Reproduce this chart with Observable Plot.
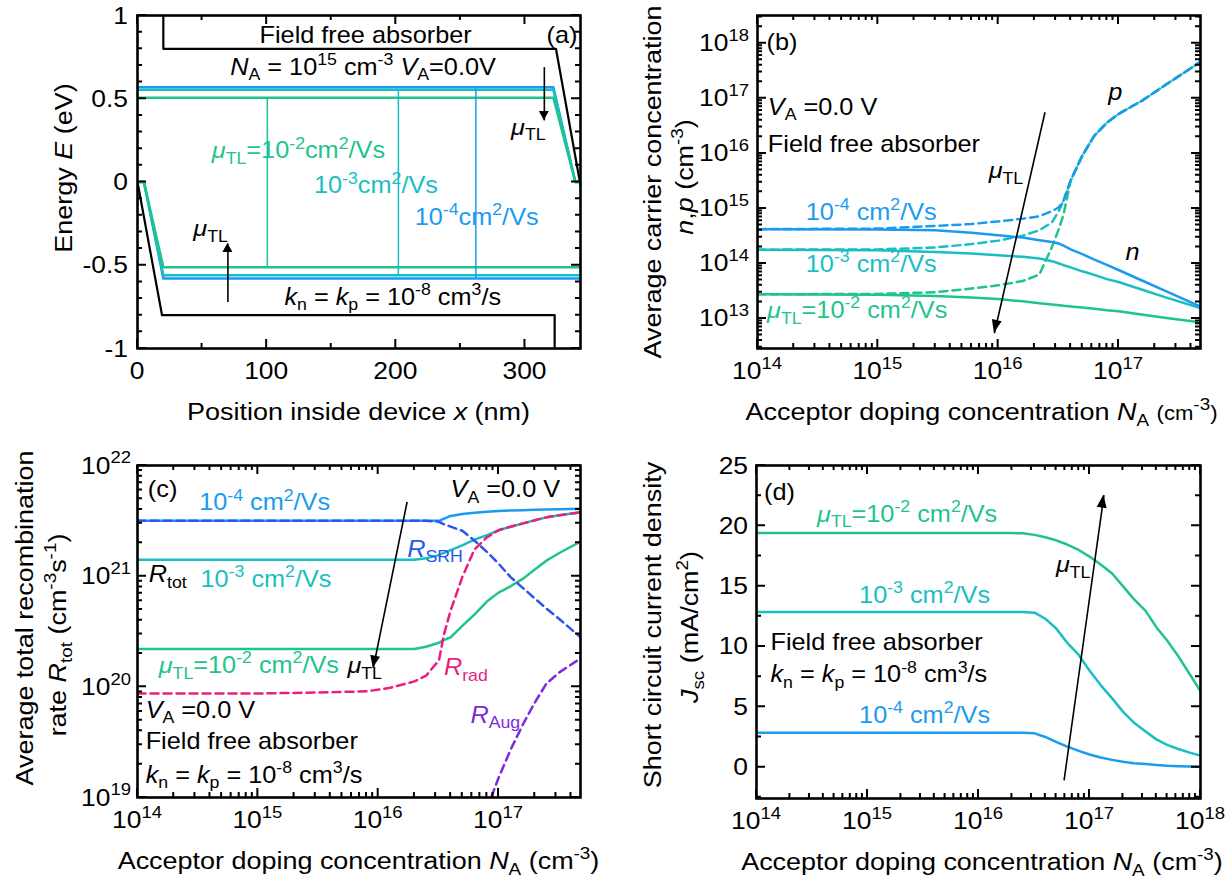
<!DOCTYPE html>
<html><head><meta charset="utf-8">
<script src="https://cdn.jsdelivr.net/npm/d3@7"></script>
<script src="https://cdn.jsdelivr.net/npm/@observablehq/plot@0.6"></script>
<style>
html,body{margin:0;padding:0;background:#fff;}
#fig{position:relative;width:1232px;height:886px;overflow:hidden;background:#fff;}
#fig svg{position:absolute;overflow:visible;max-width:none;}
</style></head><body><div id="fig"></div>
<script>
// ================= DATA =================
// ---- Panel (a): band diagram, position x (nm) vs energy E (eV)
const aBlackTopX = [20, 20, 324, 343];
const aBlackTopE = [1.2, 0.80, 0.80, -0.02];
const aBlackBotX = [0, 19, 323, 323];
const aBlackBotE = [0, -0.80, -0.80, -1.2];
const aUpperX = [0, 322, 339, 343];
const aUpperE_1e2 = [0.506, 0.506, 0, 0];
const aUpperE_1e3 = [0.554, 0.554, 0, 0];
const aUpperE_1e4 = [0.569, 0.569, 0, 0];
const aLowerX = [0, 5, 20, 343];
const aLowerE_1e2 = [0, 0, -0.512, -0.512];
const aLowerE_1e3 = [0, 0, -0.560, -0.560];
const aLowerE_1e4 = [0, 0, -0.580, -0.580];
const aVertX = [100.5, 202, 262];           // 1e-2, 1e-3, 1e-4
const aXTicks = [0, 100, 200, 300];
const aXMinor = [50, 150, 250];
const aYTicks = [-1, -0.5, 0, 0.5, 1];
const aYTickLabels = ["-1", "-0.5", "0", "0.5", "1"];
const aYMinor = [-0.9,-0.8,-0.7,-0.6,-0.4,-0.3,-0.2,-0.1,0.1,0.2,0.3,0.4,0.6,0.7,0.8,0.9];

// ---- Panel (b): carrier concentrations vs N_A
const bNA = [1e14, 1e15, 3e15, 6e15, 1e16, 1.6e16, 2.2e16, 2.8e16, 3.2e16, 3.5e16, 4e16, 5e16, 6.3e16, 8e16, 1e17, 1.6e17, 2.5e17, 4.8e17];
const bN_1e4 = [4.2e14, 4.15e14, 4.0e14, 3.6e14, 3.25e14, 2.95e14, 2.65e14, 2.45e14, 2.3e14, 2.1e14, 1.8e14, 1.48e14, 1.17e14, 9.4e13, 7.6e13, 4.8e13, 3.1e13, 1.65e13];
const bN_1e3 = [1.78e14, 1.74e14, 1.62e14, 1.51e14, 1.41e14, 1.32e14, 1.23e14, 1.1e14, 1.0e14, 9.3e13, 8.5e13, 7.2e13, 6.2e13, 5.2e13, 4.6e13, 3.3e13, 2.4e13, 1.55e13];
const bN_1e2 = [2.75e13, 2.7e13, 2.55e13, 2.4e13, 2.25e13, 2.05e13, 1.9e13, 1.8e13, 1.74e13, 1.7e13, 1.66e13, 1.58e13, 1.5e13, 1.41e13, 1.35e13, 1.17e13, 1.02e13, 8.5e12];
const bP_1e4 = [4.2e14, 4.3e14, 4.8e14, 5.2e14, 5.8e14, 6.5e14, 7.2e14, 8.9e14, 1.05e15, 1.4e15, 3.2e15, 9.1e15, 2.1e16, 3.6e16, 5.2e16, 9.3e16, 1.8e17, 4.6e17];
const bP_1e3 = [1.78e14, 1.8e14, 1.95e14, 2.25e14, 2.6e14, 3.2e14, 4.0e14, 5.6e14, 9.1e14, 1.4e15, 3.2e15, 9.1e15, 2.1e16, 3.6e16, 5.2e16, 9.3e16, 1.8e17, 4.6e17];
const bP_1e2 = [2.75e13, 2.8e13, 3.0e13, 3.5e13, 4.0e13, 4.8e13, 6.3e13, 2.0e14, 4.3e14, 7.9e14, 3.2e15, 9.1e15, 2.1e16, 3.6e16, 5.2e16, 9.3e16, 1.8e17, 4.6e17];
const bXTicks = [1e14, 1e15, 1e16, 1e17];
const bXTickLabels = ["10^{14}", "10^{15}", "10^{16}", "10^{17}"];
const bYTicks = [1e13, 1e14, 1e15, 1e16, 1e17, 1e18];
const bYTickLabels = ["10^{13}", "10^{14}", "10^{15}", "10^{16}", "10^{17}", "10^{18}"];

// ---- Panel (c): recombination rates vs N_A
const cNA = [1e14, 1e15, 3.2e15, 8e15, 1.26e16, 2e16, 2.5e16, 3.2e16, 3.5e16, 4e16, 5e16, 6.3e16, 8e16, 1e17, 1.26e17, 1.6e17, 2e17, 2.5e17, 3.2e17, 5e17];
const cRtot_1e4 = [3.16e21, 3.16e21, 3.16e21, 3.16e21, 3.16e21, 3.16e21, 3.16e21, 3.16e21, 3.3e21, 3.5e21, 3.65e21, 3.75e21, 3.82e21, 3.88e21, 3.92e21, 3.95e21, 3.98e21, 4.0e21, 4.02e21, 4.08e21];
const cRsrh_1e4 = [3.16e21, 3.16e21, 3.16e21, 3.16e21, 3.16e21, 3.16e21, 3.16e21, 3.1e21, 2.95e21, 2.8e21, 2.57e21, 2.1e21, 1.66e21, 1.3e21, 9.8e20, 7.8e20, 6.3e20, 5.1e20, 4.1e20, 2.7e20];
const cRtot_1e3 = [1.41e21, 1.41e21, 1.41e21, 1.41e21, 1.41e21, 1.41e21, 1.45e21, 1.55e21, 1.62e21, 1.72e21, 1.9e21, 2.14e21, 2.34e21, 2.6e21, 2.8e21, 3.0e21, 3.2e21, 3.4e21, 3.55e21, 3.8e21];
const cRrad = [8.7e19, 8.7e19, 8.9e19, 9.1e19, 9.8e19, 1.12e20, 1.26e20, 1.74e20, 2.9e20, 4.9e20, 9.8e20, 1.74e21, 2.24e21, 2.6e21, 2.8e21, 3.0e21, 3.2e21, 3.4e21, 3.55e21, 3.8e21];
const cRtot_1e2 = [2.2e20, 2.2e20, 2.2e20, 2.2e20, 2.2e20, 2.2e20, 2.3e20, 2.5e20, 2.65e20, 2.8e20, 3.55e20, 4.5e20, 5.9e20, 7.1e20, 8.1e20, 9.5e20, 1.15e21, 1.38e21, 1.62e21, 2.1e21];
const cAugNA = [8e16, 1e17, 1.26e17, 1.6e17, 2e17, 2.5e17, 3.2e17, 5e17];
const cRaug = [7.9e18, 1.5e19, 2.7e19, 4.6e19, 7.2e19, 1.07e20, 1.35e20, 1.86e20];
const cXTicks = [1e14, 1e15, 1e16, 1e17];
const cXTickLabels = ["10^{14}", "10^{15}", "10^{16}", "10^{17}"];
const cYTicks = [1e19, 1e20, 1e21, 1e22];
const cYTickLabels = ["10^{19}", "10^{20}", "10^{21}", "10^{22}"];

// ---- Panel (d): short circuit current density vs N_A
const dNA = [1e14, 1e15, 1e16, 2e16, 2.5e16, 3.2e16, 4e16, 5e16, 6.3e16, 8e16, 1e17, 1.26e17, 1.6e17, 2e17, 2.5e17, 3.2e17, 4e17, 5e17, 6.3e17, 8e17, 1e18];
const dJ_1e2 = [19.4, 19.4, 19.4, 19.4, 19.38, 19.25, 19.05, 18.8, 18.45, 18.0, 17.45, 16.8, 16.05, 15.0, 13.95, 12.95, 11.6, 10.5, 9.2, 7.7, 6.3];
const dJ_1e3 = [12.85, 12.85, 12.85, 12.85, 12.85, 12.8, 12.3, 11.5, 10.3, 9.3, 8.0, 6.8, 5.7, 4.6, 3.7, 2.95, 2.3, 1.85, 1.5, 1.2, 0.95];
const dJ_1e4 = [2.85, 2.85, 2.85, 2.85, 2.85, 2.8, 2.5, 2.1, 1.7, 1.35, 1.05, 0.8, 0.6, 0.45, 0.33, 0.25, 0.18, 0.12, 0.08, 0.05, 0.04];
const dXTicks = [1e14, 1e15, 1e16, 1e17, 1e18];
const dXTickLabels = ["10^{14}", "10^{15}", "10^{16}", "10^{17}", "10^{18}"];
const dYTicks = [0, 5, 10, 15, 20, 25];
const dYTickLabels = ["0", "5", "10", "15", "20", "25"];
const dYMinor = [-2.5, 2.5, 7.5, 12.5, 17.5, 22.5];

// ================= STYLE =================
const FONT = '"Liberation Sans", Arial, Helvetica, sans-serif';
const SX = 1.1;
const GREEN = "#1fc48b", TEAL = "#19bec3", BLUE = "#1b9bf0", SRHC = "#2c55ee", PINK = "#ea1f7d", PURPLE = "#7d2ae0";
const LW = 2.5, DASH = "8,5";

// ================= HELPERS =================
function parseRich(s) {
  const segs = []; let it = false, buf = "";
  const push = (t) => { if (t) segs.push({t, mode: 0, it, small: false}); };
  for (let i = 0; i < s.length; i++) {
    const c = s[i];
    if (c === "*") { push(buf); buf = ""; it = !it; }
    else if ((c === "_" || c === "^" || c === "~") && s[i + 1] === "{") {
      push(buf); buf = "";
      const j = s.indexOf("}", i);
      segs.push({t: s.slice(i + 2, j), mode: c === "_" ? -1 : c === "^" ? 1 : 0, it: false, small: c === "~"});
      i = j;
    } else buf += c;
  }
  push(buf);
  return segs;
}
function richText(g, s, x, y, o = {}) {
  const size = o.size || 23, rot = o.rotate || 0;
  const t = g.append("text")
    .attr("transform", `translate(${x},${y})` + (rot ? ` rotate(${rot})` : "") + ` scale(${SX},1)`)
    .attr("text-anchor", o.anchor || "start")
    .attr("fill", o.fill || "black")
    .attr("font-family", FONT)
    .attr("font-size", size)
    .style("white-space", "pre");
  let cur = 0;
  for (const sg of parseRich(s)) {
    const target = sg.mode === 1 ? -0.42 * size : sg.mode === -1 ? 0.24 * size : 0;
    const fs = sg.mode ? size * 0.7 : sg.small ? size * 0.82 : size;
    const ts = t.append("tspan").text(sg.t).attr("font-size", fs);
    if (target !== cur) ts.attr("dy", target - cur);
    if (sg.it) ts.attr("font-style", "italic");
    cur = target;
  }
  return t;
}
function logMinor(domain) {
  const out = [];
  const k0 = Math.floor(Math.log10(domain[0])), k1 = Math.ceil(Math.log10(domain[1]));
  for (let k = k0; k <= k1; k++) for (let m = 2; m <= 9; m++) {
    const v = m * Math.pow(10, k);
    if (v > domain[0] && v < domain[1]) out.push(v);
  }
  return out;
}
function pts(xs, ys) { return xs.map((x, i) => ({x, y: ys[i]})); }
function line(xs, ys, stroke, dashed, w) {
  return Plot.line(pts(xs, ys), {x: "x", y: "y", stroke, strokeWidth: w || LW,
    strokeDasharray: dashed ? DASH : null, clip: true, strokeLinejoin: "round"});
}

const fig = document.getElementById("fig");

function makePanel(p) {
  const fw = p.width - p.mL - p.mR;
  const marks = [
    ...p.marks,
    Plot.link(p.arrows, {x1: "x1", y1: "y1", x2: "x2", y2: "y2", stroke: "black", strokeWidth: 1.6}),
    Plot.frame({stroke: "black", strokeWidth: 2.6})
  ];
  const plot = Plot.plot({
    width: p.width, height: p.height,
    marginLeft: p.mL, marginRight: p.mR, marginTop: p.mT, marginBottom: p.mB,
    x: {...p.x, axis: null},
    y: {...p.y, axis: null},
    style: {background: "transparent", overflow: "visible"},
    marks
  });
  plot.style.left = p.left + "px";
  plot.style.top = p.top + "px";
  fig.appendChild(plot);
  const sx = plot.scale("x"), sy = plot.scale("y");
  const g = d3.select(plot).append("g");
  const L = p.mL, R = p.width - p.mR, T = p.mT, B = p.height - p.mB;
  // inward tick marks on all four sides, positioned with the plot's scales (drawn as one path)
  let d = "";
  for (const [arr, len] of [[p.xTicks, 9], [p.xMinor, 5]]) for (const v of arr) {
    const X = sx.apply(v).toFixed(2);
    d += `M${X},${B}V${B - len}M${X},${T}V${T + len}`;
  }
  for (const [arr, len] of [[p.yTicks, 9], [p.yMinor, 5]]) for (const v of arr) {
    const Y = sy.apply(v).toFixed(2);
    d += `M${L},${Y}H${L + len}M${R},${Y}H${R - len}`;
  }
  g.append("path").attr("d", d).attr("fill", "none").attr("stroke", "#000").attr("stroke-width", 2);
  // arrow heads
  for (const a of p.arrows) {
    const X1 = sx.apply(a.x1), Y1 = sy.apply(a.y1), X2 = sx.apply(a.x2), Y2 = sy.apply(a.y2);
    const len = Math.hypot(X2 - X1, Y2 - Y1), ux = (X2 - X1) / len, uy = (Y2 - Y1) / len;
    const hl = a.hl || 12, hw = a.hw || 5;
    const bx = X2 - ux * hl, by = Y2 - uy * hl;
    g.append("path").attr("fill", "black")
      .attr("d", `M${X2},${Y2}L${bx - uy * hw},${by + ux * hw}L${bx + uy * hw},${by - ux * hw}Z`);
  }
  // tick labels
  p.xTicks.forEach((v, i) => richText(g, p.xTickLabels[i], sx.apply(v), B + 31, {anchor: "middle", size: 24}));
  p.yTicks.forEach((v, i) => richText(g, p.yTickLabels[i], L - p.yLabPad, sy.apply(v) + 8.5, {anchor: "end", size: 24}));
  // axis titles
  richText(g, p.xTitle, L + fw / 2 + (p.xTitleDx || 0), B + 72, {anchor: "middle", size: 24.5});
  for (const t of p.yTitles) richText(g, t.t, t.gx - p.left, t.gy - p.top, {anchor: "middle", size: 24.5, rotate: -90});
  // annotations
  for (const n of p.notes) richText(g, n.t, sx.apply(n.x), sy.apply(n.y), {anchor: n.anchor || "start", fill: n.fill, size: 23});
}

const NA_TITLE = "Acceptor doping concentration *N*_{A} (cm^{-3})";

// ---- Panel (a)
makePanel({
  left: 0, top: 0, width: 616, height: 443, mL: 137, mR: 36, mT: 15, mB: 95,
  x: {type: "linear", domain: [0, 343]},
  y: {type: "linear", domain: [-1, 1]},
  marks: [
    line(aBlackTopX, aBlackTopE, "black", false, 2.2),
    line(aBlackBotX, aBlackBotE, "black", false, 2.2),
    line(aUpperX, aUpperE_1e4, BLUE), line(aUpperX, aUpperE_1e3, TEAL), line(aUpperX, aUpperE_1e2, GREEN),
    line(aLowerX, aLowerE_1e4, BLUE), line(aLowerX, aLowerE_1e3, TEAL), line(aLowerX, aLowerE_1e2, GREEN),
    Plot.ruleX([0, 1, 2], {x: i => aVertX[i], y1: i => [aUpperE_1e2, aUpperE_1e3, aUpperE_1e4][i][0],
      y2: i => [aLowerE_1e2, aLowerE_1e3, aLowerE_1e4][i][3], stroke: i => [GREEN, TEAL, BLUE][i], strokeWidth: 1.5})
  ],
  xTicks: aXTicks, xMinor: aXMinor, yTicks: aYTicks, yMinor: aYMinor,
  xTickLabels: aXTicks.map(String), yTickLabels: aYTickLabels, yLabPad: 9,
  xTitle: "Position inside device *x* (nm)",
  yTitles: [{t: "Energy *E* (eV)", gx: 72, gy: 168}],
  arrows: [{x1: 315, y1: 0.69, x2: 315, y2: 0.37, hl: 9, hw: 5}, {x1: 70, y1: -0.72, x2: 70, y2: -0.37, hl: 9, hw: 5}],
  notes: [
    {t: "Field free absorber", x: 177, y: 0.83, anchor: "middle"},
    {t: "(a)", x: 329, y: 0.83, anchor: "middle"},
    {t: "*N*_{A} = 10^{15} cm^{-3} *V*_{A}=0.0V", x: 175, y: 0.64, anchor: "middle"},
    {t: "*μ*_{TL}", x: 303, y: 0.28, anchor: "middle"},
    {t: "*μ*_{TL}=10^{-2}cm^{2}/Vs", x: 125, y: 0.14, anchor: "middle", fill: GREEN},
    {t: "10^{-3}cm^{2}/Vs", x: 185, y: -0.07, anchor: "middle", fill: TEAL},
    {t: "10^{-4}cm^{2}/Vs", x: 263, y: -0.26, anchor: "middle", fill: BLUE},
    {t: "*μ*_{TL}", x: 57, y: -0.33, anchor: "middle"},
    {t: "*k*_{n} = *k*_{p} = 10^{-8} cm^{3}/s", x: 198, y: -0.74, anchor: "middle"}
  ]
});

// ---- Panel (b)
const bXDom = [1e14, 4.8e17], bYDom = [2.85e12, 3.2e18];
makePanel({
  left: 616, top: 0, width: 616, height: 443, mL: 141, mR: 32, mT: 15, mB: 95,
  x: {type: "log", domain: bXDom},
  y: {type: "log", domain: bYDom},
  marks: [
    line(bNA, bP_1e2, GREEN, true), line(bNA, bP_1e3, TEAL, true), line(bNA, bP_1e4, BLUE, true),
    line(bNA, bN_1e2, GREEN), line(bNA, bN_1e3, TEAL), line(bNA, bN_1e4, BLUE)
  ],
  xTicks: bXTicks, xMinor: logMinor(bXDom), yTicks: bYTicks, yMinor: logMinor(bYDom),
  xTickLabels: bXTickLabels, yTickLabels: bYTickLabels, yLabPad: 8,
  xTitle: "Acceptor doping concentration *N*_{A} ~{(cm}^{-3}~{)}", xTitleDx: 3,
  yTitles: [{t: "Average carrier concentration", gx: 661, gy: 182}, {t: "*n*,*p* (cm^{-3})", gx: 693, gy: 177}],
  arrows: [{x1: 2.45e16, y1: 5.6e16, x2: 9.3e15, y2: 5.4e12, hl: 13, hw: 5}],
  notes: [
    {t: "(b)", x: 1.2e14, y: 7.4e17},
    {t: "*V*_{A} =0.0 V", x: 1.23e14, y: 4.9e16},
    {t: "Field free absorber", x: 1.23e14, y: 1.05e16},
    {t: "*μ*_{TL}", x: 1.17e16, y: 3.5e15, anchor: "middle"},
    {t: "*p*", x: 9.5e16, y: 9.1e16, anchor: "middle"},
    {t: "*n*", x: 1.32e17, y: 1.12e14, anchor: "middle"},
    {t: "10^{-4} cm^{2}/Vs", x: 8.9e14, y: 6.0e14, anchor: "middle", fill: BLUE},
    {t: "10^{-3} cm^{2}/Vs", x: 8.9e14, y: 6.9e13, anchor: "middle", fill: TEAL},
    {t: "*μ*_{TL}=10^{-2} cm^{2}/Vs", x: 6.8e14, y: 1.0e13, anchor: "middle", fill: GREEN}
  ]
});

// ---- Panel (c)
const cXDom = [1e14, 4.8e17], cYDom = [1e19, 1e22];
makePanel({
  left: 0, top: 443, width: 616, height: 443, mL: 137, mR: 36, mT: 22, mB: 89,
  x: {type: "log", domain: cXDom},
  y: {type: "log", domain: cYDom},
  marks: [
    line(cNA, cRtot_1e2, GREEN), line(cNA, cRtot_1e3, TEAL), line(cNA, cRtot_1e4, BLUE),
    line(cNA, cRsrh_1e4, SRHC, true), line(cNA, cRrad, PINK, true), line(cAugNA, cRaug, PURPLE, true)
  ],
  xTicks: cXTicks, xMinor: logMinor(cXDom), yTicks: cYTicks, yMinor: logMinor(cYDom),
  xTickLabels: cXTickLabels, yTickLabels: cYTickLabels, yLabPad: 6,
  xTitle: NA_TITLE,
  yTitles: [{t: "Average total recombination", gx: 33, gy: 618}, {t: "rate *R*_{tot} (cm^{-3}s^{-1})", gx: 66, gy: 635}],
  arrows: [{x1: 1.74e16, y1: 4.7e21, x2: 9.1e15, y2: 1.48e20, hl: 12, hw: 5}],
  notes: [
    {t: "(c)", x: 1.23e14, y: 5.1e21},
    {t: "10^{-4} cm^{2}/Vs", x: 1.15e15, y: 3.9e21, anchor: "middle", fill: BLUE},
    {t: "*V*_{A} =0.0 V", x: 1.15e17, y: 5.1e21, anchor: "middle"},
    {t: "*R*_{SRH}", x: 3.0e16, y: 1.48e21, anchor: "middle", fill: SRHC},
    {t: "*R*_{tot}", x: 1.8e14, y: 8.7e20, anchor: "middle"},
    {t: "10^{-3} cm^{2}/Vs", x: 1.18e15, y: 7.9e20, anchor: "middle", fill: TEAL},
    {t: "*μ*_{TL}=10^{-2} cm^{2}/Vs", x: 8.5e14, y: 1.32e20, anchor: "middle", fill: GREEN},
    {t: "*μ*_{TL}", x: 7.8e15, y: 1.32e20, anchor: "middle"},
    {t: "*R*_{rad}", x: 5.4e16, y: 1.26e20, anchor: "middle", fill: PINK},
    {t: "*V*_{A} =0.0 V", x: 1.18e14, y: 5.2e19},
    {t: "Field free absorber", x: 1.18e14, y: 2.7e19},
    {t: "*k*_{n} = *k*_{p} = 10^{-8} cm^{3}/s", x: 1.18e14, y: 1.35e19},
    {t: "*R*_{Aug}", x: 9.5e16, y: 4.7e19, anchor: "middle", fill: PURPLE}
  ]
});

// ---- Panel (d)
const dXDom = [1e14, 1e18], dYDom = [-2.6, 25];
makePanel({
  left: 616, top: 443, width: 616, height: 443, mL: 140, mR: 32, mT: 22, mB: 88,
  x: {type: "log", domain: dXDom},
  y: {type: "linear", domain: dYDom},
  marks: [
    line(dNA, dJ_1e2, GREEN), line(dNA, dJ_1e3, TEAL), line(dNA, dJ_1e4, BLUE)
  ],
  xTicks: dXTicks, xMinor: logMinor(dXDom), yTicks: dYTicks, yMinor: dYMinor,
  xTickLabels: dXTickLabels, yTickLabels: dYTickLabels, yLabPad: 8,
  xTitle: NA_TITLE, xTitleDx: 4,
  yTitles: [{t: "Short circuit current density", gx: 661, gy: 625}, {t: "*J*_{sc} (mA/cm^{2})", gx: 698, gy: 627}],
  arrows: [{x1: 5.9e16, y1: -1.1, x2: 1.35e17, y2: 22.55, hl: 13, hw: 5}],
  notes: [
    {t: "(d)", x: 1.18e14, y: 22.1},
    {t: "*μ*_{TL}=10^{-2} cm^{2}/Vs", x: 2.3e15, y: 20.3, anchor: "middle", fill: GREEN},
    {t: "*μ*_{TL}", x: 7.2e16, y: 16.1, anchor: "middle"},
    {t: "10^{-3} cm^{2}/Vs", x: 3.3e15, y: 13.6, anchor: "middle", fill: TEAL},
    {t: "Field free absorber", x: 1.35e14, y: 9.7},
    {t: "*k*_{n} = *k*_{p} = 10^{-8} cm^{3}/s", x: 1.35e14, y: 7.0},
    {t: "10^{-4} cm^{2}/Vs", x: 3.3e15, y: 3.65, anchor: "middle", fill: BLUE}
  ]
});
</script></body></html>
